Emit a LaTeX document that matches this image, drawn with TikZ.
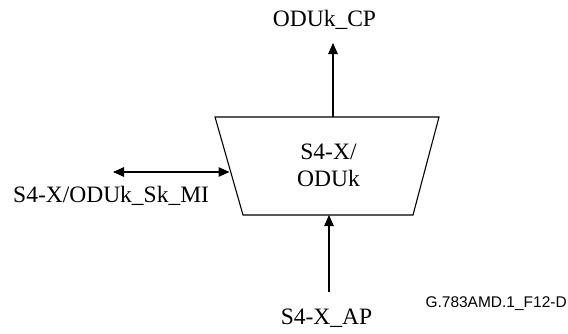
\documentclass[tikz,border=0pt]{standalone}
\usepackage{fontspec}
\setmainfont{Liberation Serif}
\newfontfamily\arialfont{Liberation Sans}
\usetikzlibrary{arrows.meta}
\begin{document}
\begin{tikzpicture}[x=1pt,y=1pt,
  lbl/.style={font=\fontsize{23.5}{27}\selectfont, inner sep=0pt},
  conn/.style={line width=1.1pt},
  tip/.style={-{Triangle[length=11pt,width=9.5pt]}},
  dtip/.style={{Triangle[length=11pt,width=9.5pt]}-{Triangle[length=11pt,width=9.5pt]}}]
\useasboundingbox (0,0) rectangle (568,333);
% trapezoid
\coordinate (tl) at (215,216);
\coordinate (tr) at (439,216);
\coordinate (br) at (413,118);
\coordinate (bl) at (243,118);
\draw[conn] (tl) -- (tr) -- (br) -- (bl) -- cycle;
\node[lbl, align=center] (fn) at (328.5,168) {S4-X/\\ODUk};
\coordinate (topc) at (333,216);
\coordinate (botc) at (329,118);
\coordinate (lefc) at (229.5,161);
\node[lbl, anchor=base] (cp) at (324.5,306) {ODUk\_CP};
\node[lbl, anchor=base] (ap) at (326.5,9) {S4-X\_AP};
\node[lbl, anchor=base west] (mi) at (13,131) {S4-X/ODUk\_Sk\_MI};
\coordinate (miend) at (113,161);
\node[font=\arialfont\fontsize{15.5}{18}\selectfont, inner sep=0pt, anchor=base east] (id) at (567,26) {G.783AMD.1\_F12-D};
\coordinate (apend) at (329,41);
\coordinate (cpend) at (333,290);
\draw[conn,tip] (topc) -- (cpend);
\draw[conn,tip] (apend) -- (botc);
\draw[conn,dtip] (miend) -- (lefc);
\end{tikzpicture}
\end{document}
